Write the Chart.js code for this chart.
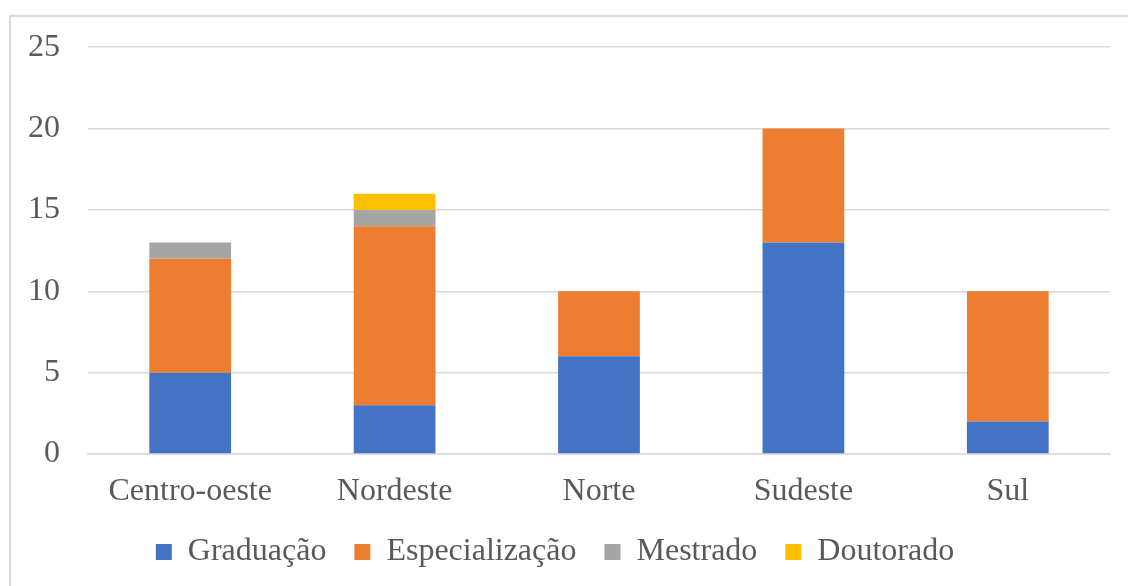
<!DOCTYPE html>
<html>
<head>
<meta charset="utf-8">
<script src="https://cdn.jsdelivr.net/npm/chart.js@4/dist/chart.umd.min.js"></script>
<style>
  html, body { margin: 0; padding: 0; background: #fff; overflow: hidden; }
  #frame { position: absolute; left: 9px; top: 15px; width: 1130px; height: 590px; border: 2px solid #d9d9d9; box-sizing: border-box; }
  #c { position: absolute; left: 0; top: 0; }
</style>
</head>
<body>
<div id="frame"></div>
<canvas id="c" width="1128" height="586"></canvas>
<script>
const categories = ["Centro-oeste", "Nordeste", "Norte", "Sudeste", "Sul"];
const graduacao = [5, 3, 6, 13, 2];
const especializacao = [7, 11, 4, 7, 8];
const mestrado = [1, 1, 0, 0, 0];
const doutorado = [0, 1, 0, 0, 0];
const yTicks = [0, 5, 10, 15, 20, 25];

const fontFamily = "'Liberation Serif', 'Times New Roman', serif";
const textColor = "#595959";

new Chart(document.getElementById('c'), {
  type: 'bar',
  data: {
    labels: categories,
    datasets: [
      { label: 'Graduação', data: graduacao, backgroundColor: '#4472c4' },
      { label: 'Especialização', data: especializacao, backgroundColor: '#ed7d31' },
      { label: 'Mestrado', data: mestrado, backgroundColor: '#a5a5a5' },
      { label: 'Doutorado', data: doutorado, backgroundColor: '#ffc000' }
    ]
  },
  options: {
    responsive: false,
    animation: false,
    datasets: { bar: { categoryPercentage: 1.0, barPercentage: 0.4, borderWidth: 0 } },
    layout: { padding: { left: 0, right: 18, top: 47, bottom: 8 } },
    plugins: {
      tooltip: { enabled: false },
      legend: {
        position: 'bottom',
        labels: {
          font: { family: fontFamily, size: 32 },
          color: textColor,
          boxWidth: 16,
          boxHeight: 16,
          padding: 28
        }
      }
    },
    scales: {
      x: {
        stacked: true,
        grid: { display: false, drawTicks: false },
        border: { display: true, color: '#d9d9d9', width: 1.5 },
        ticks: { font: { family: fontFamily, size: 32 }, color: textColor, padding: 18 },
        afterFit: s => { s.height = 54; }
      },
      y: {
        stacked: true,
        min: 0,
        max: 25,
        afterBuildTicks: s => { s.ticks = yTicks.map(v => ({ value: v })); },
        grid: { color: '#d9d9d9', lineWidth: 1.5, drawTicks: false },
        border: { display: false },
        ticks: { font: { family: fontFamily, size: 32 }, color: textColor, padding: 28 },
        afterFit: s => { s.width = 88; }
      }
    }
  }
});
</script>
</body>
</html>
